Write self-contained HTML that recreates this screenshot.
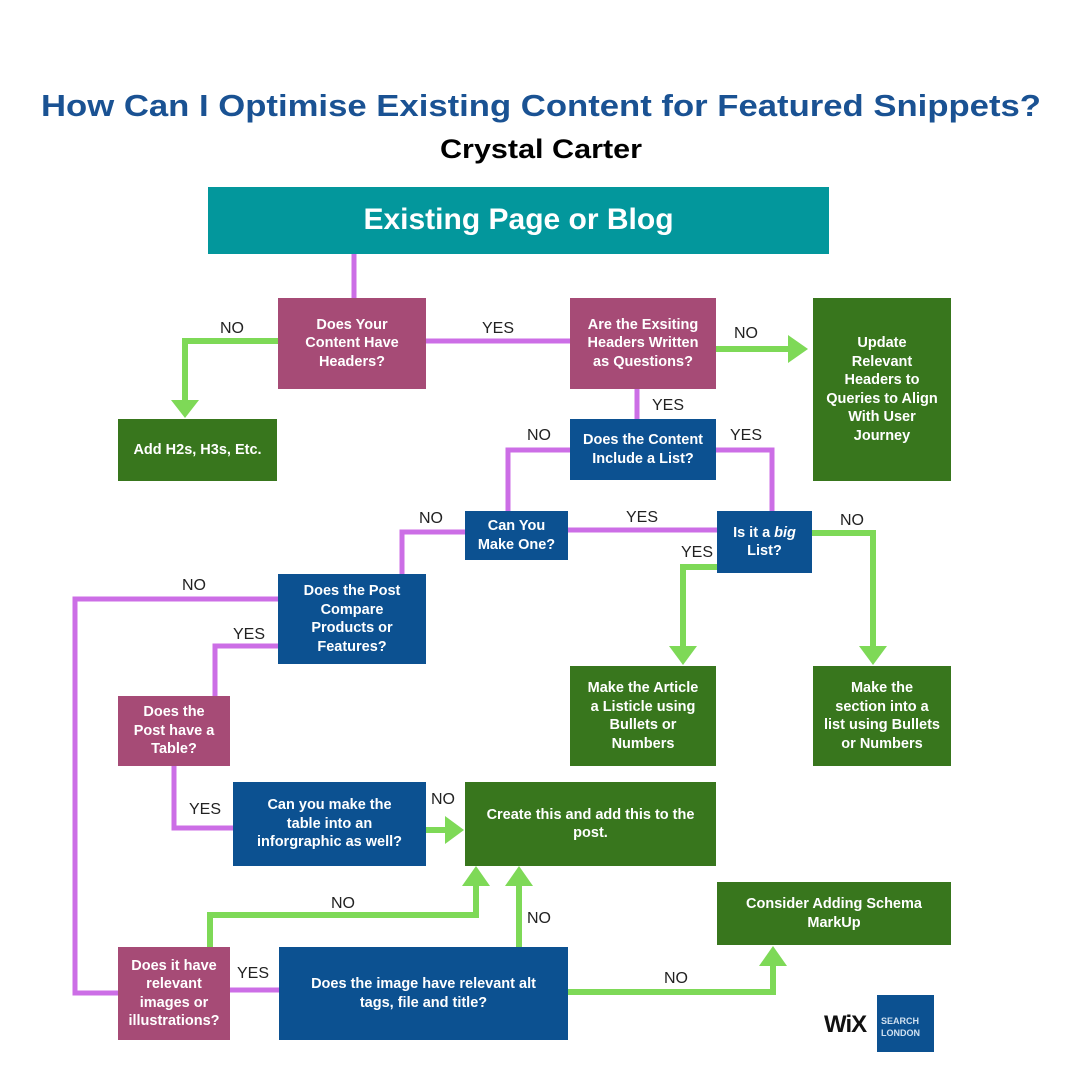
<!DOCTYPE html>
<html><head><meta charset="utf-8"><style>
body{margin:0;background:#fff;}
#c{position:relative;width:1080px;height:1080px;overflow:hidden;background:#fff;font-family:"Liberation Sans",sans-serif;}
.b{position:absolute;display:flex;align-items:center;justify-content:center;text-align:center;color:#fff;font-weight:bold;font-size:14.5px;line-height:18.5px;box-sizing:border-box;padding:0 2px;white-space:nowrap;}
.m{background:#a64b76;}.u{background:#0c5191;}.g{background:#38761d;}
.l{position:absolute;font-size:16px;color:#222;}
</style></head><body><div id="c">
<svg width="1080" height="1080" style="position:absolute;left:0;top:0">
<text x="541" y="116" text-anchor="middle" font-family="Liberation Sans" font-weight="bold" font-size="31" fill="#1a5293" textLength="1000" lengthAdjust="spacingAndGlyphs">How Can I Optimise Existing Content for Featured Snippets?</text>
<text x="541" y="158" text-anchor="middle" font-family="Liberation Sans" font-weight="bold" font-size="27" fill="#000" textLength="202" lengthAdjust="spacingAndGlyphs">Crystal Carter</text>
<g fill="none" stroke="#cc6ee6" stroke-width="5">
<path d="M354 253V298"/>
<path d="M426 341H570"/>
<path d="M637 389V419"/>
<path d="M570 450H508V511"/>
<path d="M716 450H772V511"/>
<path d="M568 530H717"/>
<path d="M465 532H402V574"/>
<path d="M278 599H75V993H118"/>
<path d="M278 646H215V696"/>
<path d="M174 766V828H233"/>
<path d="M230 990H279"/>
</g>
<g fill="none" stroke="#7ed957" stroke-width="6">
<path d="M278 341H185V405"/>
<path d="M716 349H792"/>
<path d="M812 533H873V650"/>
<path d="M717 567H683V650"/>
<path d="M426 830H447"/>
<path d="M210 947V915H476V882"/>
<path d="M519 947V882"/>
<path d="M568 992H773V962"/>
</g>
<g fill="#7ed957">
<polygon points="171,400 199,400 185,418"/>
<polygon points="788,335 788,363 808,349"/>
<polygon points="859,646 887,646 873,665"/>
<polygon points="669,646 697,646 683,665"/>
<polygon points="445,816 445,844 464,830"/>
<polygon points="462,886 490,886 476,866"/>
<polygon points="505,886 533,886 519,866"/>
<polygon points="759,966 787,966 773,946"/>
</g>
</svg>
<div class="b" style="left:208px;top:187px;width:621px;height:67px;background:#03979c;font-size:30px;">Existing Page or Blog</div>
<div class="b m" style="left:278px;top:298px;width:148px;height:91px;"><span>Does Your<br>Content Have<br>Headers?</span></div>
<div class="b m" style="left:570px;top:298px;width:146px;height:91px;"><span>Are the Exsiting<br>Headers Written<br>as Questions?</span></div>
<div class="b g" style="left:813px;top:298px;width:138px;height:183px;"><span>Update<br>Relevant<br>Headers to<br>Queries to Align<br>With User<br>Journey</span></div>
<div class="b g" style="left:118px;top:419px;width:159px;height:62px;"><span>Add H2s, H3s, Etc.</span></div>
<div class="b u" style="left:570px;top:419px;width:146px;height:61px;"><span>Does the Content<br>Include a List?</span></div>
<div class="b u" style="left:465px;top:511px;width:103px;height:49px;"><span>Can You<br>Make One?</span></div>
<div class="b u" style="left:717px;top:511px;width:95px;height:62px;"><span>Is it a <i>big</i><br>List?</span></div>
<div class="b u" style="left:278px;top:574px;width:148px;height:90px;"><span>Does the Post<br>Compare<br>Products or<br>Features?</span></div>
<div class="b g" style="left:570px;top:666px;width:146px;height:100px;"><span>Make the Article<br>a Listicle using<br>Bullets or<br>Numbers</span></div>
<div class="b g" style="left:813px;top:666px;width:138px;height:100px;"><span>Make the<br>section into a<br>list using Bullets<br>or Numbers</span></div>
<div class="b m" style="left:118px;top:696px;width:112px;height:70px;"><span>Does the<br>Post have a<br>Table?</span></div>
<div class="b u" style="left:233px;top:782px;width:193px;height:84px;"><span>Can you make the<br>table into an<br>inforgraphic as well?</span></div>
<div class="b g" style="left:465px;top:782px;width:251px;height:84px;"><span>Create this and add this to the<br>post.</span></div>
<div class="b g" style="left:717px;top:882px;width:234px;height:63px;"><span>Consider Adding Schema<br>MarkUp</span></div>
<div class="b m" style="left:118px;top:947px;width:112px;height:93px;"><span>Does it have<br>relevant<br>images or<br>illustrations?</span></div>
<div class="b u" style="left:279px;top:947px;width:289px;height:93px;"><span>Does the image have relevant alt<br>tags, file and title?</span></div>
<div class="l" style="left:220px;top:320px">NO</div>
<div class="l" style="left:482px;top:320px">YES</div>
<div class="l" style="left:734px;top:325px">NO</div>
<div class="l" style="left:652px;top:397px">YES</div>
<div class="l" style="left:527px;top:427px">NO</div>
<div class="l" style="left:730px;top:427px">YES</div>
<div class="l" style="left:626px;top:509px">YES</div>
<div class="l" style="left:419px;top:510px">NO</div>
<div class="l" style="left:840px;top:512px">NO</div>
<div class="l" style="left:681px;top:544px">YES</div>
<div class="l" style="left:182px;top:577px">NO</div>
<div class="l" style="left:233px;top:626px">YES</div>
<div class="l" style="left:189px;top:801px">YES</div>
<div class="l" style="left:431px;top:791px">NO</div>
<div class="l" style="left:331px;top:895px">NO</div>
<div class="l" style="left:527px;top:910px">NO</div>
<div class="l" style="left:237px;top:965px">YES</div>
<div class="l" style="left:664px;top:970px">NO</div>
<div style="position:absolute;left:824px;top:1011px;font-size:24px;font-weight:bold;color:#111;letter-spacing:-1px">WiX</div>
<div style="position:absolute;left:877px;top:995px;width:57px;height:57px;background:#0c5191;color:#cfe0f0;font-size:9px;font-weight:bold;line-height:12px;padding:20px 0 0 4px;box-sizing:border-box">SEARCH<br>LONDON</div>
</div></body></html>
